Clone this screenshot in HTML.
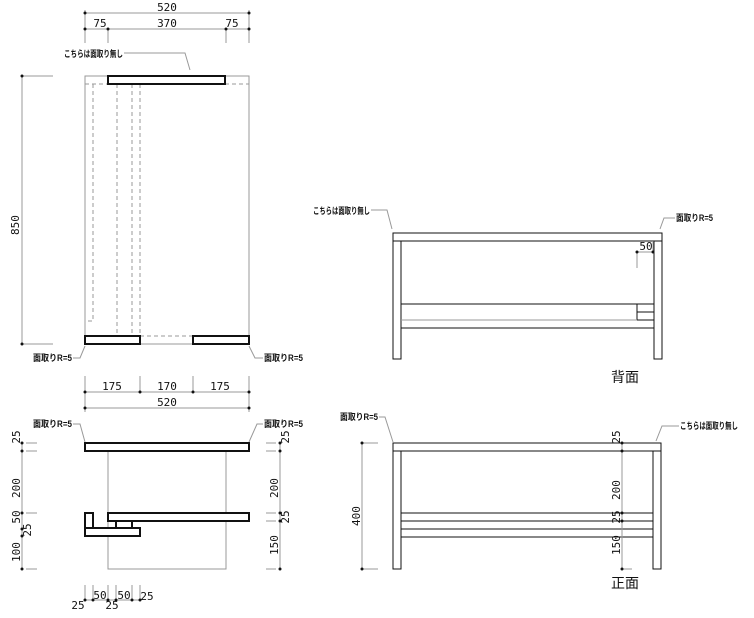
<!DOCTYPE html>
<html><head><meta charset="utf-8"><style>
html,body{margin:0;padding:0;background:#fff}
svg{display:block}
text{font-family:"Liberation Sans","Noto Sans CJK JP",sans-serif;font-size:10px;fill:#111}
.n{font-family:"DejaVu Sans Mono","Liberation Mono",monospace;font-size:11px}
.j{font-size:9px;font-weight:bold}
.g{stroke:#999;stroke-width:1;fill:none}
.k{stroke:#111;stroke-width:2;fill:#fff}
.t{stroke:#111;stroke-width:1;fill:none}
.d{stroke:#999;stroke-width:1;fill:none;stroke-dasharray:4,3}
</style></head><body>
<svg width="754" height="618" viewBox="0 0 754 618" xmlns="http://www.w3.org/2000/svg">
<!-- TOP VIEW -->
<rect x="85" y="76" width="164" height="268" class="g"/>
<path d="M85 84H108M225 84H249M93 84V321H85M117 84V336M132 84V336M140 84V336M140 336H193" class="d"/>
<rect x="108" y="76" width="117" height="8" class="k"/>
<rect x="85" y="336" width="55" height="8" class="k"/>
<rect x="193" y="336" width="56" height="8" class="k"/>
<path d="M85 13H249M85 29H249M85 10V43M108 29V43M226 29V43M249 10V43" class="g"/>
<g fill="#111"><circle cx="85" cy="13" r="1.5"/><circle cx="249" cy="13" r="1.5"/><circle cx="85" cy="29" r="1.5"/><circle cx="108" cy="29" r="1.5"/><circle cx="226" cy="29" r="1.5"/><circle cx="249" cy="29" r="1.5"/></g>
<text class="n" x="167" y="11" text-anchor="middle">520</text>
<text class="n" x="100" y="27" text-anchor="middle">75</text>
<text class="n" x="167" y="27" text-anchor="middle">370</text>
<text class="n" x="232" y="27" text-anchor="middle">75</text>
<text class="j" x="64" y="57" textLength="59" lengthAdjust="spacingAndGlyphs">こちらは面取り無し</text>
<path d="M124 53H185L190 70" class="g"/>
<path d="M22 76V344M22 76H53M22 344H53" class="g"/>
<g fill="#111"><circle cx="22" cy="76" r="1.5"/><circle cx="22" cy="344" r="1.5"/></g>
<text class="n" x="19" y="225" text-anchor="middle" transform="rotate(-90 19 225)">850</text>
<text class="j" x="33" y="361" textLength="39" lengthAdjust="spacingAndGlyphs">面取りR=5</text>
<path d="M73 358H80L85 346" class="g"/>
<text class="j" x="264" y="361" textLength="39" lengthAdjust="spacingAndGlyphs">面取りR=5</text>
<path d="M263 358H255L249 346" class="g"/>
<path d="M85 376V412M140 376V392M193 376V392M249 376V412M85 392H249M85 408H249" class="g"/>
<g fill="#111"><circle cx="85" cy="392" r="1.5"/><circle cx="140" cy="392" r="1.5"/><circle cx="193" cy="392" r="1.5"/><circle cx="249" cy="392" r="1.5"/><circle cx="85" cy="408" r="1.5"/><circle cx="249" cy="408" r="1.5"/></g>
<text class="n" x="112" y="390" text-anchor="middle">175</text>
<text class="n" x="167" y="390" text-anchor="middle">170</text>
<text class="n" x="220" y="390" text-anchor="middle">175</text>
<text class="n" x="167" y="406" text-anchor="middle">520</text>
<!-- SIDE VIEW -->
<rect x="108" y="451" width="118" height="118" class="g"/>
<rect x="85" y="443" width="164" height="8" class="k"/>
<rect x="108" y="513" width="141" height="8" class="k"/>
<rect x="116" y="521" width="16" height="7" class="k"/>
<rect x="85" y="528" width="55" height="8" class="k"/>
<rect x="85" y="513" width="8" height="15" class="k"/>
<text class="j" x="33" y="427" textLength="39" lengthAdjust="spacingAndGlyphs">面取りR=5</text>
<path d="M73 424H80L85 442" class="g"/>
<text class="j" x="264" y="427" textLength="39" lengthAdjust="spacingAndGlyphs">面取りR=5</text>
<path d="M263 424H257L249 442" class="g"/>
<path d="M22 443V569M26 443H37M26 451H37M26 513H37M26 569H37M266 443H276M266 451H276M266 513H276M266 521H276M266 569H276M280 443V569" class="g"/>
<g fill="#111"><circle cx="22" cy="443" r="1.5"/><circle cx="22" cy="451" r="1.5"/><circle cx="22" cy="513" r="1.5"/><circle cx="22" cy="529" r="1.5"/><circle cx="22" cy="536" r="1.5"/><circle cx="22" cy="569" r="1.5"/>
<circle cx="280" cy="443" r="1.5"/><circle cx="280" cy="451" r="1.5"/><circle cx="280" cy="513" r="1.5"/><circle cx="280" cy="521" r="1.5"/><circle cx="280" cy="569" r="1.5"/></g>
<text class="n" x="20" y="437" text-anchor="middle" transform="rotate(-90 20 437)">25</text>
<text class="n" x="20" y="488" text-anchor="middle" transform="rotate(-90 20 488)">200</text>
<text class="n" x="20" y="517" text-anchor="middle" transform="rotate(-90 20 517)">50</text>
<text class="n" x="31" y="530" text-anchor="middle" transform="rotate(-90 31 530)">25</text>
<text class="n" x="20" y="552" text-anchor="middle" transform="rotate(-90 20 552)">100</text>
<text class="n" x="289" y="437" text-anchor="middle" transform="rotate(-90 289 437)">25</text>
<text class="n" x="278" y="488" text-anchor="middle" transform="rotate(-90 278 488)">200</text>
<text class="n" x="289" y="517" text-anchor="middle" transform="rotate(-90 289 517)">25</text>
<text class="n" x="278" y="545" text-anchor="middle" transform="rotate(-90 278 545)">150</text>
<path d="M85 585V600M93 585V600M108 585V600M116 585V600M132 585V600M140 585V600M85 600H140" class="g"/>
<g fill="#111"><circle cx="85" cy="600" r="1.5"/><circle cx="93" cy="600" r="1.5"/><circle cx="108" cy="600" r="1.5"/><circle cx="116" cy="600" r="1.5"/><circle cx="132" cy="600" r="1.5"/><circle cx="140" cy="600" r="1.5"/></g>
<text class="n" x="78" y="609" text-anchor="middle">25</text>
<text class="n" x="100" y="599" text-anchor="middle">50</text>
<text class="n" x="112" y="609" text-anchor="middle">25</text>
<text class="n" x="124" y="599" text-anchor="middle">50</text>
<text class="n" x="147" y="600" text-anchor="middle">25</text>
<!-- BACK VIEW -->
<rect x="393" y="233" width="269" height="8" class="t"/>
<rect x="393" y="241" width="8" height="118" class="t"/>
<rect x="654" y="241" width="8" height="118" class="t"/>
<path d="M401 304H654M401 328H654M637 304V320H654M637 312H654" class="t"/>
<path d="M401 320H637" class="g"/>
<path d="M637 252H653M637 252V268M653 241V252" class="g"/>
<g fill="#111"><circle cx="637" cy="252" r="1.5"/><circle cx="653" cy="252" r="1.5"/></g>
<text class="n" x="646" y="250" text-anchor="middle">50</text>
<text class="j" x="313" y="214" textLength="57" lengthAdjust="spacingAndGlyphs">こちらは面取り無し</text>
<path d="M371 210H387L392 229" class="g"/>
<text class="j" x="676" y="221" textLength="37" lengthAdjust="spacingAndGlyphs">面取りR=5</text>
<path d="M660 229L664 218H675" class="g"/>
<text x="625" y="382" text-anchor="middle" style="font-size:14px">背面</text>
<!-- FRONT VIEW -->
<rect x="393" y="443" width="268" height="8" class="t"/>
<rect x="393" y="451" width="8" height="118" class="t"/>
<rect x="653" y="451" width="8" height="118" class="t"/>
<path d="M401 513H653M401 521H653M401 529H653M401 537H653" class="t"/>
<path d="M362 443V569M362 443H378M362 569H378M622 443V569M622 569H632" class="g"/>
<g fill="#111"><circle cx="362" cy="443" r="1.5"/><circle cx="362" cy="569" r="1.5"/><circle cx="622" cy="443" r="1.5"/><circle cx="622" cy="451" r="1.5"/><circle cx="622" cy="513" r="1.5"/><circle cx="622" cy="521" r="1.5"/><circle cx="622" cy="569" r="1.5"/></g>
<text class="n" x="360" y="516" text-anchor="middle" transform="rotate(-90 360 516)">400</text>
<text class="n" x="620" y="437" text-anchor="middle" transform="rotate(-90 620 437)">25</text>
<text class="n" x="620" y="490" text-anchor="middle" transform="rotate(-90 620 490)">200</text>
<text class="n" x="620" y="517" text-anchor="middle" transform="rotate(-90 620 517)">25</text>
<text class="n" x="620" y="545" text-anchor="middle" transform="rotate(-90 620 545)">150</text>
<text class="j" x="340" y="420" textLength="38" lengthAdjust="spacingAndGlyphs">面取りR=5</text>
<path d="M379 417H385L393 442" class="g"/>
<text class="j" x="680" y="429" textLength="58" lengthAdjust="spacingAndGlyphs">こちらは面取り無し</text>
<path d="M679 426H662L656 441" class="g"/>
<text x="625" y="588" text-anchor="middle" style="font-size:14px">正面</text>
</svg>
</body></html>
